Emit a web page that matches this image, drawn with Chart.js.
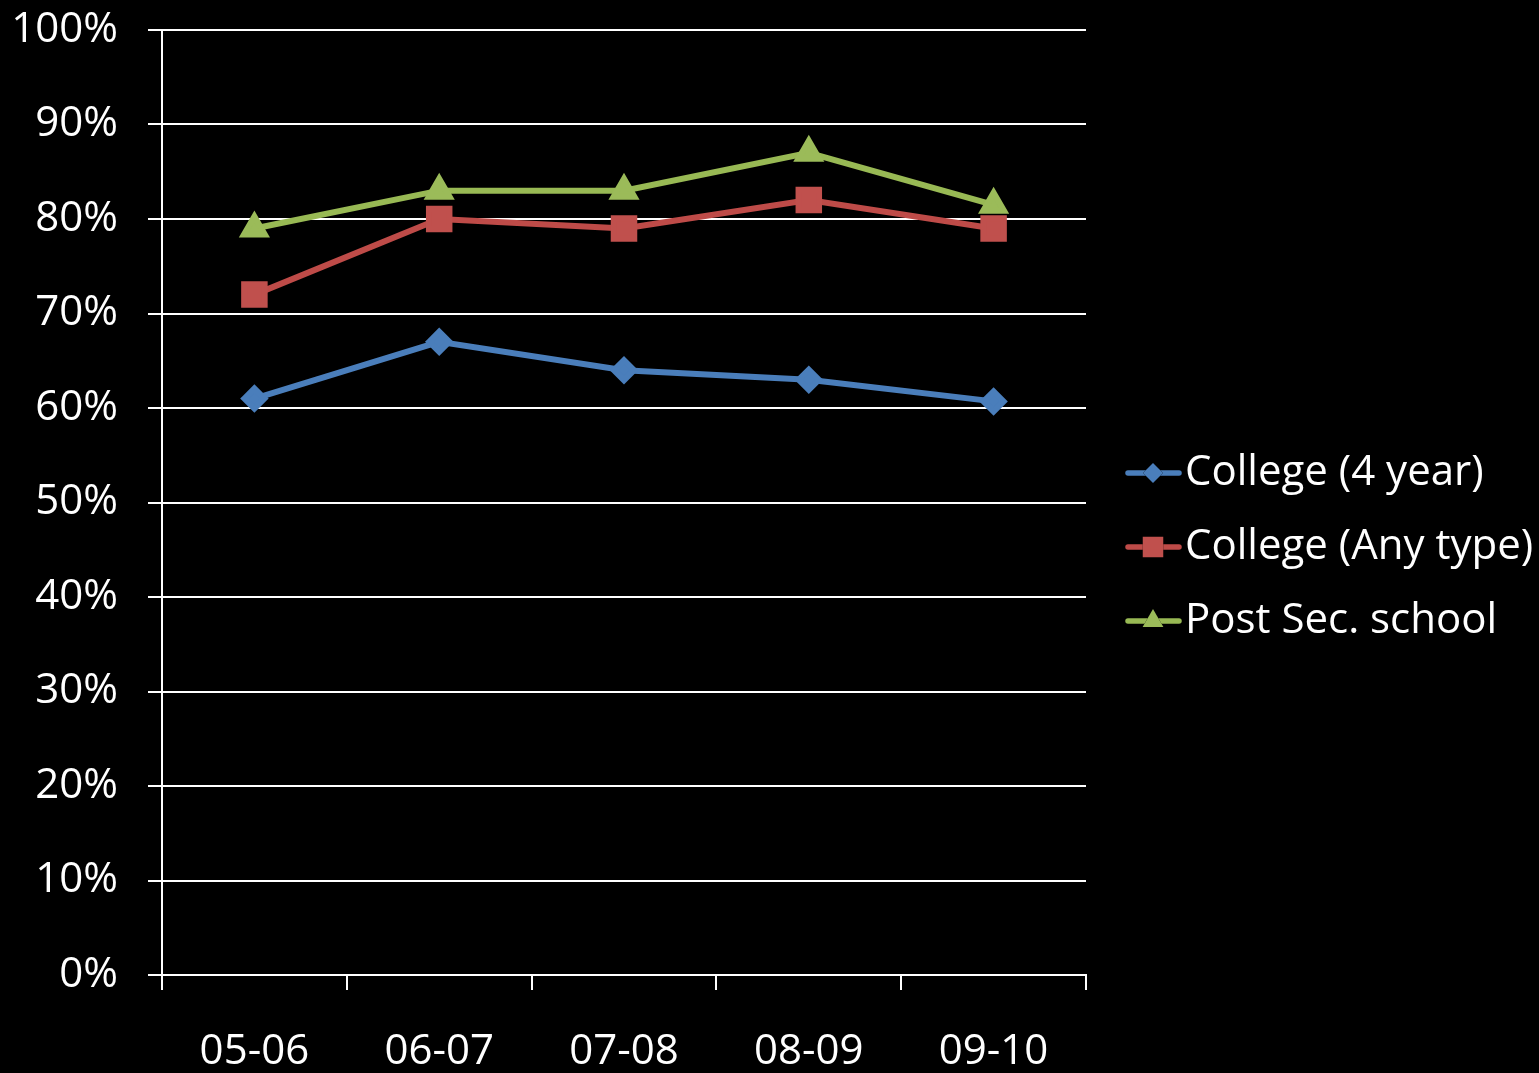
<!DOCTYPE html>
<html>
<head>
<meta charset="utf-8">
<script src="https://cdn.jsdelivr.net/npm/chart.js@4/dist/chart.umd.min.js"></script>
<style>
  html, body { margin: 0; padding: 0; background: #000; }
  #wrap { width: 1539px; height: 1073px; position: relative; }
</style>
</head>
<body>
<div id="wrap"><canvas id="myChart"></canvas></div>
<script>
const years = ['05-06', '06-07', '07-08', '08-09', '09-10'];
const college4 = [61, 67, 64, 63, 60.7];
const collegeAny = [72, 80, 79, 82, 79];
const postSec = [79, 83, 83, 87, 81.5];
const yTicks = [0, 10, 20, 30, 40, 50, 60, 70, 80, 90, 100];

const FONT = '"Open Sans", "DejaVu Sans", sans-serif';

// legend drawn by hand: line sample with marker, then the label
const sideLegend = {
  id: 'sideLegend',
  afterDraw(chart) {
    const ctx = chart.ctx;
    const rows = [473, 547, 621];
    chart.data.datasets.forEach((ds, i) => {
      const y = rows[i];
      ctx.save();
      ctx.strokeStyle = ds.borderColor;
      ctx.lineWidth = 5.5;
      ctx.lineCap = 'round';
      ctx.beginPath();
      ctx.moveTo(1128, y);
      ctx.lineTo(1179, y);
      ctx.stroke();
      Chart.helpers.drawPoint(ctx, {
        pointStyle: ds.pointStyle,
        radius: ds.pointRadius,
        borderWidth: 0
      }, 1153, y);
      ctx.fillStyle = ds.pointBackgroundColor;
      ctx.fill();
      ctx.fillStyle = '#fff';
      ctx.font = '42px ' + FONT;
      ctx.textBaseline = 'middle';
      ctx.textAlign = 'left';
      ctx.fillText(ds.label, 1185, y);
      ctx.restore();
    });
  }
};

new Chart(document.getElementById('myChart'), {
  type: 'line',
  data: {
    labels: years,
    datasets: [
      {
        label: 'College (4 year)',
        data: college4,
        borderColor: '#4A7EBB',
        backgroundColor: '#4A7EBB',
        pointBackgroundColor: '#4A7EBB',
        pointBorderColor: '#4A7EBB',
        pointStyle: 'rectRot',
        pointRadius: 10,
        borderWidth: 6,
        tension: 0
      },
      {
        label: 'College (Any type)',
        data: collegeAny,
        borderColor: '#BE4B48',
        backgroundColor: '#C0504D',
        pointBackgroundColor: '#C0504D',
        pointBorderColor: '#C0504D',
        pointStyle: 'rect',
        pointRadius: 14.5,
        borderWidth: 6,
        tension: 0
      },
      {
        label: 'Post Sec. school',
        data: postSec,
        borderColor: '#98B954',
        backgroundColor: '#9BBB59',
        pointBackgroundColor: '#9BBB59',
        pointBorderColor: '#9BBB59',
        pointStyle: 'triangle',
        pointRadius: 12,
        borderWidth: 6,
        tension: 0
      }
    ]
  },
  options: {
    responsive: true,
    maintainAspectRatio: false,
    animation: false,
    layout: { padding: { left: 0, right: 453, top: 30, bottom: 0 } },
    plugins: {
      legend: { display: false },
      tooltip: { enabled: false }
    },
    scales: {
      x: {
        offset: true,
        grid: {
          display: true,
          offset: true,
          drawOnChartArea: false,
          color: '#fff',
          lineWidth: 2,
          tickLength: 15
        },
        border: { color: '#fff', width: 2 },
        ticks: {
          color: '#fff',
          font: { family: FONT, size: 42 },
          padding: 37,
          maxRotation: 0
        },
        afterFit(scale) { scale.height = 98; }
      },
      y: {
        min: 0,
        max: 100,
        afterBuildTicks(scale) { scale.ticks = yTicks.map(v => ({ value: v })); },
        grid: {
          color: '#fff',
          lineWidth: 2,
          tickLength: 14
        },
        border: { color: '#fff', width: 2 },
        ticks: {
          color: '#fff',
          font: { family: FONT, size: 42 },
          padding: 30,
          callback: v => v + '%'
        },
        afterFit(scale) {
          scale.width = 162;
          scale.paddingTop = 0;
          scale.paddingBottom = 0;
        }
      }
    }
  },
  plugins: [sideLegend]
});
</script>
</body>
</html>
